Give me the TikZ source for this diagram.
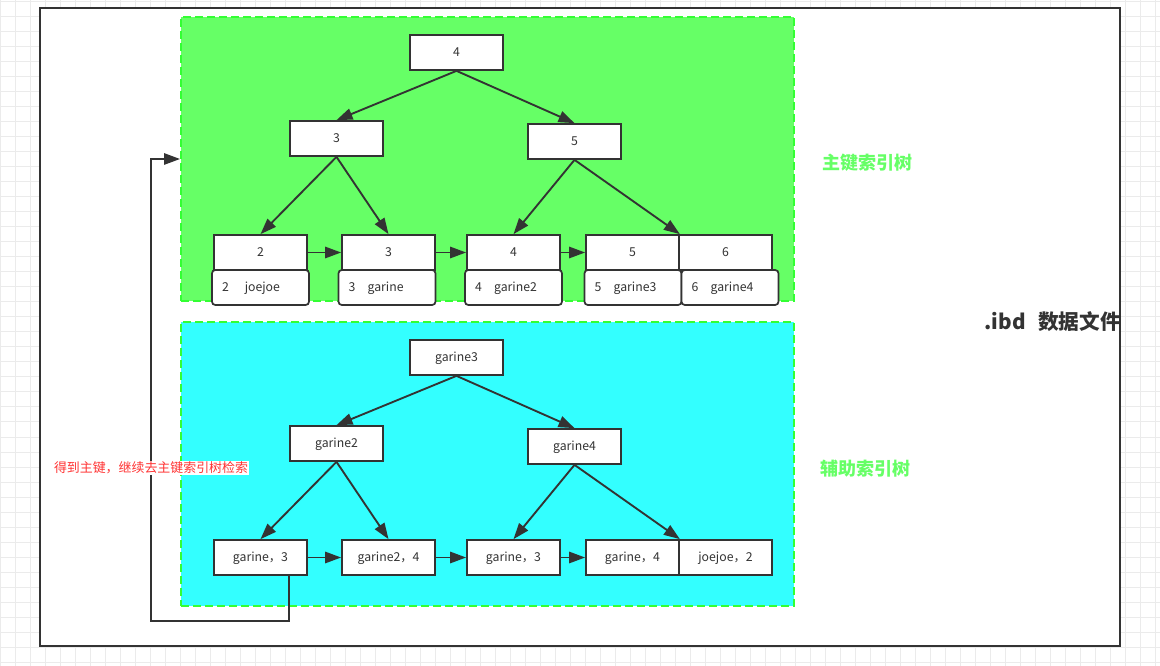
\documentclass[tikz,border=0pt]{standalone}
\usepackage{fontspec}
\setmainfont{Noto Sans CJK SC}
\usetikzlibrary{arrows.meta,calc}
\definecolor{ink}{HTML}{333333}
\definecolor{pkfill}{HTML}{66FF66}
\definecolor{skfill}{HTML}{33FFFF}
\definecolor{dashc}{HTML}{33FF33}
\definecolor{gridc}{HTML}{EBEBEB}
\definecolor{lblgreen}{HTML}{66FF66}
\definecolor{lblred}{HTML}{FF3333}
\tikzset{
  x=0.75pt, y=-0.75pt,
  gridline/.style={draw=gridc, line width=0.75pt},
  region/.style={draw=dashc, line width=1.5pt, dash pattern=on 6pt off 3pt, minimum width=459.75pt, minimum height=213pt, inner sep=0pt},
  keybox/.style={draw=ink, fill=white, line width=1.3pt, minimum width=69.75pt, minimum height=26.25pt, inner sep=0pt, text height=6.4pt, text depth=0pt, text=ink, font=\fontsize{9.2}{11}\selectfont},
  rowbox/.style={draw=ink, fill=white, line width=1.3pt, rounded corners=2.5pt, text width=57.75pt, inner xsep=7.5pt, minimum height=26.25pt, inner ysep=0pt, text height=6.4pt, text depth=0pt, align=left, text=ink, font=\fontsize{9.2}{11}\selectfont},
  link/.style={draw=ink, line width=1.4pt, -{Triangle[length=12pt,width=8.5pt]}},
  treelabel/.style={text=lblgreen, font=\fontsize{13.5}{15}\selectfont\bfseries},
}
\begin{document}
\begin{tikzpicture}
\useasboundingbox (0,0) rectangle (1160,666);
% background grid
\foreach \gx in {0.7,15.7,...,1160} {\draw[gridline] (\gx,0) -- (\gx,666);}
\foreach \gy in {2,17,...,666} {\draw[gridline] (0,\gy) -- (1160,\gy);}
% outer file box
\node[draw=ink, fill=white, line width=1.5pt, minimum width=810pt, minimum height=478.5pt, inner sep=0pt] (file) at (580,327) {};
% regions
\node[region, fill=pkfill] (pk) at (487.5,159) {};
\node[region, fill=skfill] (sk) at (487.5,464) {};
% primary key tree
\node[keybox] (t4) at (456.5,52.5) {4};
\node[keybox] (t3) at (336.5,138.5) {3};
\node[keybox] (t5) at (574.5,141.5) {5};
\node[rowbox] (r2) at (260.5,287.5) {2\hspace{1.3em}joejoe};
\node[rowbox] (r3) at (387,287.5) {3\hspace{1em}garine};
\node[rowbox] (r4) at (513.5,287.5) {4\hspace{1em}garine2};
\node[rowbox] (r5) at (633,287.5) {5\hspace{1em}garine3};
\node[rowbox] (r6) at (730,287.5) {6\hspace{1em}garine4};
\node[keybox] (l2) at (260.5,252.5) {2};
\node[keybox] (l3) at (388.5,252.5) {3};
\node[keybox] (l4) at (513.5,252.5) {4};
\node[keybox] (l5) at (632.5,252.5) {5};
\node[keybox] (l6) at (725.5,252.5) {6};
\draw[link] (t4.south) -- (t3.north);
\draw[link] (t4.south) -- (t5.north);
\draw[link] (t3.south) -- (l2.north);
\draw[link] (t3.south) -- (l3.north);
\draw[link] (t5.south) -- (l4.north);
\draw[link] (t5.south) -- (l5.north east);
\draw[link] (l2.east) -- (l3.west);
\draw[link] (l3.east) -- (l4.west);
\draw[link] (l4.east) -- (l5.west);
% secondary index tree
\node[keybox] (b1) at (456.5,357.5) {garine3};
\node[keybox] (b2) at (336.5,443.5) {garine2};
\node[keybox] (b3) at (574.5,446.5) {garine4};
\node[keybox] (m1) at (260.5,557.5) {garine，3};
\node[keybox] (m2) at (388.5,557.5) {garine2，4};
\node[keybox] (m3) at (513.5,557.5) {garine，3};
\node[keybox] (m4) at (632.5,557.5) {garine，4};
\node[keybox] (m5) at (725.5,557.5) {joejoe，2};
\draw[link] (b1.south) -- (b2.north);
\draw[link] (b1.south) -- (b3.north);
\draw[link] (b2.south) -- (m1.north);
\draw[link] (b2.south) -- (m2.north);
\draw[link] (b3.south) -- (m3.north);
\draw[link] (b3.south) -- (m4.north east);
\draw[link] (m1.east) -- (m2.west);
\draw[link] (m2.east) -- (m3.west);
\draw[link] (m3.east) -- (m4.west);
% back-reference to primary key tree
\coordinate (c1) at (289,621);
\coordinate (c2) at (151,621);
\draw[link] (m1.south -| c1) -- (c1) -- (c2) |- (pk.west);
\node[fill=white, text=lblred, inner sep=0.5pt, font=\fontsize{9.7}{11}\selectfont] (note) at (151,468) {得到主键，继续去主键索引树检索};
% labels
\node[treelabel] (pklabel) at (867,163) {主键索引树};
\node[treelabel] (sklabel) at (865,469) {辅助索引树};
\node[anchor=east, text=ink, inner sep=0pt, font=\fontsize{15.5}{18}\selectfont\bfseries] (ibd) at (1121,322) {.ibd\hspace{0.6em}数据文件};
\end{tikzpicture}
\end{document}
